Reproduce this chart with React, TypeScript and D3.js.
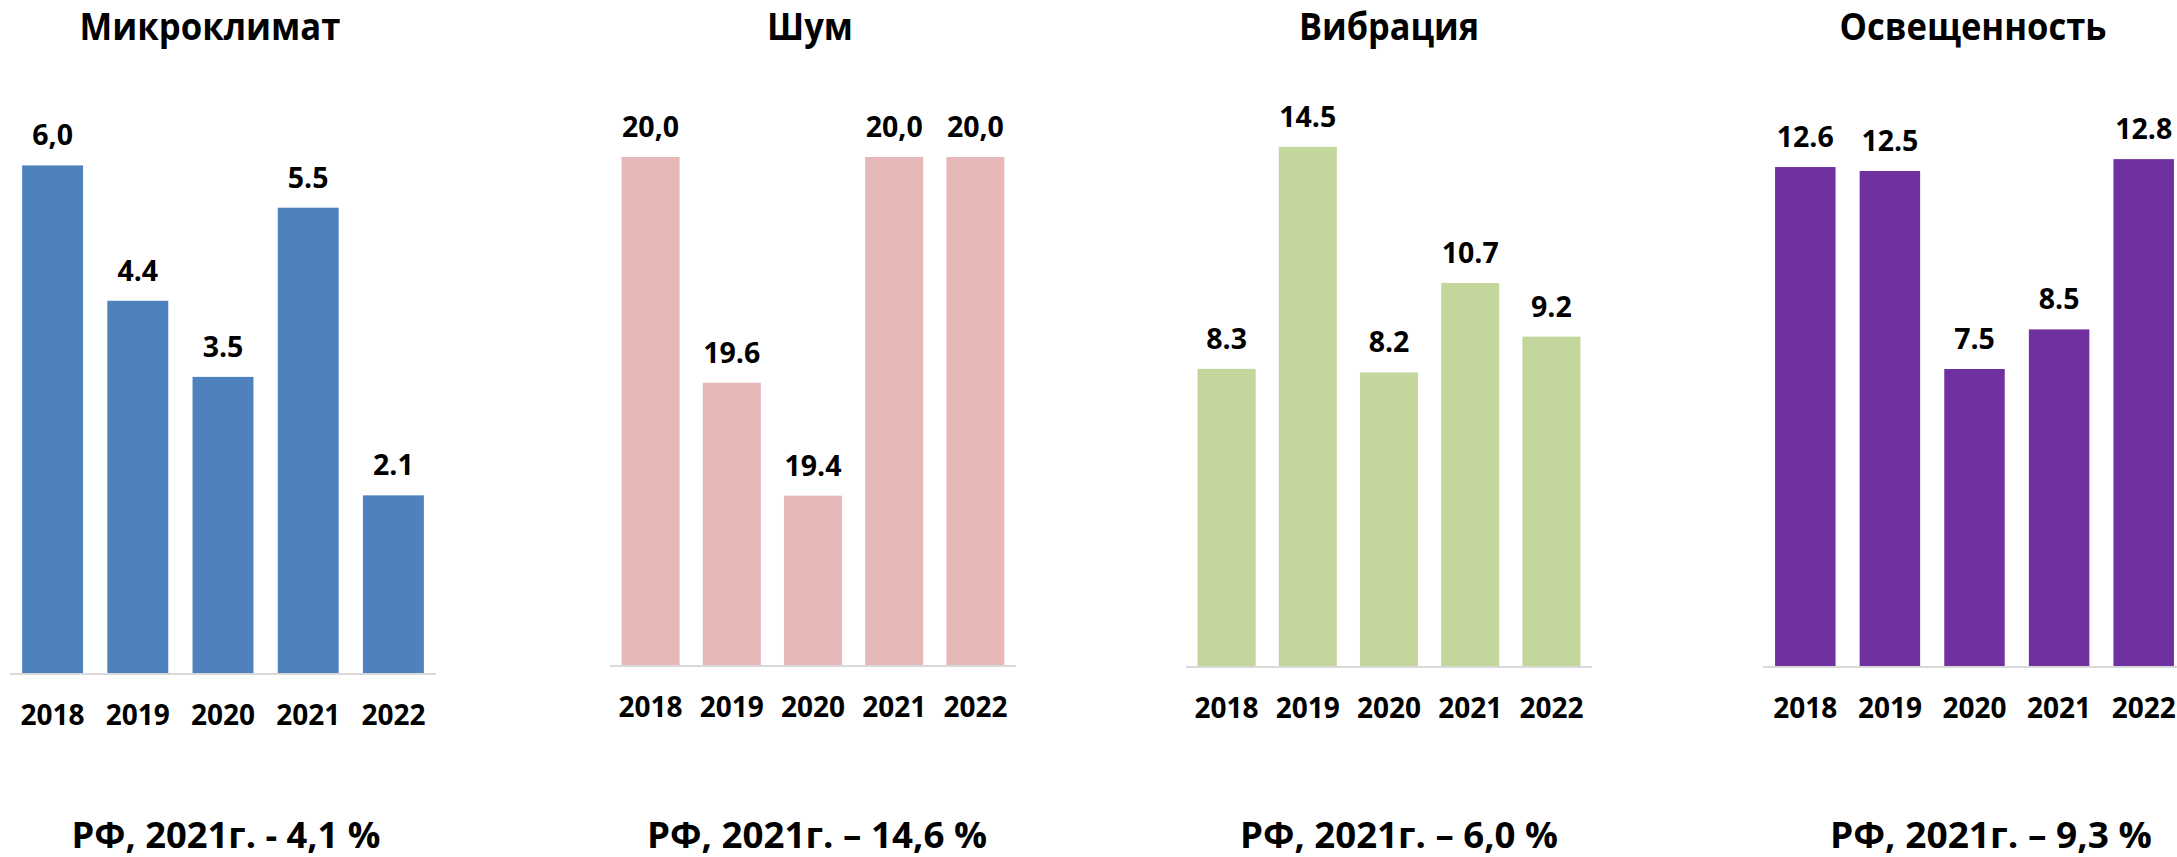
import React from "react";
import * as d3 from "d3";

// ---- data ----
const years = ["2018", "2019", "2020", "2021", "2022"];

const microclimateValues = [6.0, 4.4, 3.5, 5.5, 2.1];
const microclimateLabels = ["6,0", "4.4", "3.5", "5.5", "2.1"];

const noiseValues = [20.0, 19.6, 19.4, 20.0, 20.0];
const noiseLabels = ["20,0", "19.6", "19.4", "20,0", "20,0"];

const vibrationValues = [8.3, 14.5, 8.2, 10.7, 9.2];
const vibrationLabels = ["8.3", "14.5", "8.2", "10.7", "9.2"];

const lightingValues = [12.6, 12.5, 7.5, 8.5, 12.8];
const lightingLabels = ["12.6", "12.5", "7.5", "8.5", "12.8"];

const titles = ["Микроклимат", "Шум", "Вибрация", "Освещенность"];
const footers = [
  "РФ, 2021г. - 4,1 %",
  "РФ, 2021г. – 14,6 %",
  "РФ, 2021г. – 6,0 %",
  "РФ, 2021г. – 9,3 %",
];

// ---- layout / styles ----
const W = 2177;
const H = 857;
const FONT = "'Open Sans', 'Noto Sans', sans-serif";

const panels = [
  {
    title: titles[0], footer: footers[0], values: microclimateValues, labels: microclimateLabels,
    color: "#4F81BD", x0: 10, x1: 436, base: 673, domain: [0, 7], top: 80.8,
    titleX: 210, titleW: 261, footX: 226, footW: 309,
  },
  {
    title: titles[1], footer: footers[1], values: noiseValues, labels: noiseLabels,
    color: "#E6B9B8", x0: 610, x1: 1016, base: 665, domain: [19.1, 20], top: 157,
    titleX: 810, titleW: 86, footX: 817, footW: 340,
  },
  {
    title: titles[2], footer: footers[2], values: vibrationValues, labels: vibrationLabels,
    color: "#C3D69B", x0: 1186, x1: 1592, base: 666, domain: [0, 16], top: 93.2,
    titleX: 1389, titleW: 180, footX: 1399, footW: 318,
  },
  {
    title: titles[3], footer: footers[3], values: lightingValues, labels: lightingLabels,
    color: "#7030A0", x0: 1763, x1: 2186, base: 666, domain: [0, 14], top: 111.6,
    titleX: 1973, titleW: 267, footX: 1991, footW: 322,
  },
];

function Panel({ p }: { p: (typeof panels)[number] }) {
  const x = d3.scaleBand<string>().domain(years).range([p.x0, p.x1]).paddingInner(0.285).paddingOuter(0.1425);
  const y = d3.scaleLinear().domain(p.domain).range([p.base, p.top]);
  return (
    <g>
      <text x={p.titleX} y={40} textAnchor="middle" fontFamily={FONT} fontWeight={700} fontSize={38}
        textLength={p.titleW} lengthAdjust="spacingAndGlyphs" fill="#000">{p.title}</text>
      {p.values.map((v, i) => (
        <rect key={"b" + i} x={x(years[i])} y={y(v)} width={x.bandwidth()} height={p.base - y(v)} fill={p.color} />
      ))}
      <line x1={p.x0} x2={p.x1} y1={p.base + 1} y2={p.base + 1} stroke="#D9D9D9" strokeWidth={2} />
      {p.values.map((v, i) => (
        <text key={"l" + i} x={(x(years[i]) as number) + x.bandwidth() / 2} y={y(v) - 20} textAnchor="middle"
          fontFamily={FONT} fontWeight={700} fontSize={28.5} fill="#000">{p.labels[i]}</text>
      ))}
      {years.map((yr) => (
        <text key={"y" + yr} x={(x(yr) as number) + x.bandwidth() / 2} y={p.base + 52} textAnchor="middle"
          fontFamily={FONT} fontWeight={700} fontSize={28} fill="#000">{yr}</text>
      ))}
      <text x={p.footX} y={848} textAnchor="middle" fontFamily={FONT} fontWeight={700} fontSize={35}
        textLength={p.footW} lengthAdjust="spacingAndGlyphs" fill="#000">{p.footer}</text>
    </g>
  );
}

export default function App() {
  return (
    <svg width={W} height={H} viewBox={`0 0 ${W} ${H}`}
      style={{ position: "absolute", left: 0, top: 0, display: "block", background: "#fff" }}>
      <rect x={0} y={0} width={W} height={H} fill="#fff" />
      {panels.map((p, i) => <Panel key={i} p={p} />)}
    </svg>
  );
}
